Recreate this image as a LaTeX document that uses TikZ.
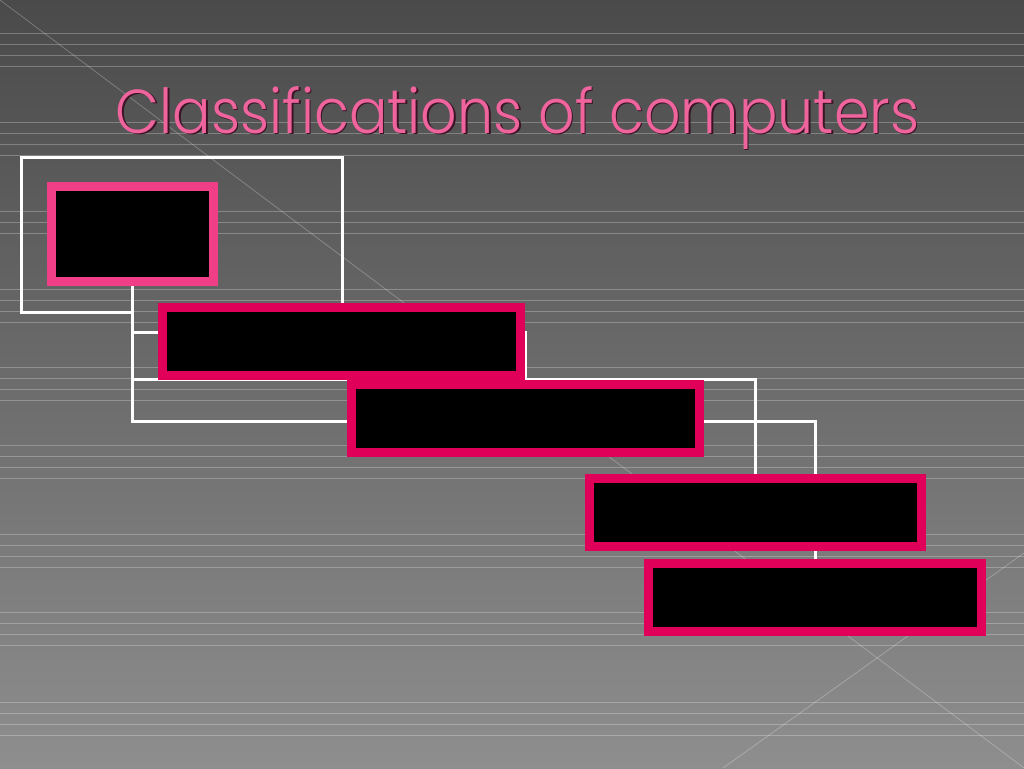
\documentclass[tikz,border=0pt]{standalone}
\usepackage{fontspec}
\newfontfamily\titlefont{Poppins Light}
\usetikzlibrary{calc,backgrounds}
\definecolor{slatetop}{RGB}{74,74,74}
\definecolor{slatebot}{RGB}{142,142,142}
\definecolor{rose}{RGB}{240,62,135}
\definecolor{crimson}{RGB}{224,0,90}
\definecolor{titlepink}{RGB}{240,100,158}
\definecolor{titleshade}{RGB}{60,20,38}
\tikzset{catbox/.style={draw=crimson, fill=black, line width=9pt, inner sep=0pt, outer sep=0pt, minimum height=68pt}}
\tikzset{wire/.style={draw=white, line width=3pt}}
\tikzset{streak/.style={draw=white, opacity=0.26, line width=0.8pt}}
\tikzset{heading/.style={anchor=base, xscale=0.92, font=\titlefont\fontsize{62}{62}\selectfont}}

\begin{document}
\begin{tikzpicture}[x=1pt,y=-1pt]
        \useasboundingbox (0,0) rectangle (1024,768);
        %
        \node[heading, text=titleshade] (titleshadow) at (519,134.5) {Classifications of computers};
        \node[heading, text=titlepink] (title) at (517.5,133) {Classifications of computers};
        %
        \node[catbox, draw=rose, minimum width=162pt, minimum height=95pt] (root) at (132.5,234) {};
        \node[catbox, minimum width=358pt] (micro) at (341.5,341.5) {};
        \node[catbox, minimum width=348pt] (mini) at (525.5,418.5) {};
        \node[catbox, minimum width=332pt] (mainframe) at (755.5,512.5) {};
        \node[catbox, minimum width=333pt] (super) at (815,597.5) {};
        %
        \coordinate (tapB) at (133,332);
        \coordinate (tapM) at (133,379);
        \coordinate (rim) at (525,331);
        \coordinate (frameA) at (342,303);
        \coordinate (frameB) at (21,157);
        \coordinate (frameC) at (133,312);
        %
        \begin{scope}[on background layer]
            \shade[top color=slatetop, bottom color=slatebot] (0,0) rectangle (1024,768);
            \foreach \g/\n in {33/3,122/3,211/2,289/3,367/3,445/3,534/3,612/3,702/3}
                \foreach \k in {0,...,\n}
                    \draw[streak] (0,\g+11*\k) -- (1024,\g+11*\k);
            \draw[streak] (0,0) -- (1024,768);
            \draw[streak] (1024,553) -- (723,768);
            %
            \draw[wire] (frameA) |- (frameB) |- (frameC);
            \draw[wire] (root.south) -- ++(0,140) -| (super.north);
            \draw[wire] (tapB) -- (tapB -| micro.west);
            \draw[wire] (tapM) -| (mainframe.north);
            \draw[wire] (rim) -- (rim |- tapM);
        \end{scope}
    \end{tikzpicture}
\end{document}
